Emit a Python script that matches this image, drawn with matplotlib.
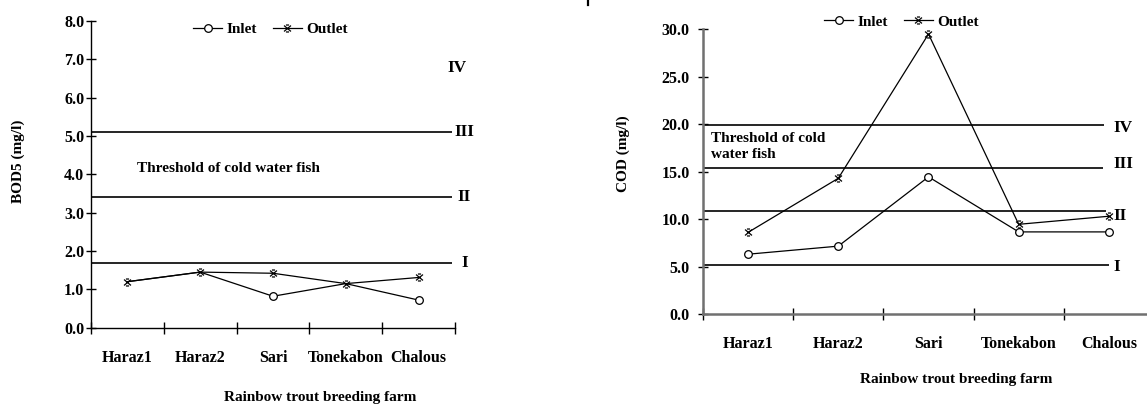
import matplotlib
matplotlib.use('Agg')
import matplotlib.pyplot as plt
from matplotlib.path import Path
from matplotlib.lines import Line2D

farms = ['Haraz1', 'Haraz2', 'Sari', 'Tonekabon', 'Chalous']

bod_inlet = [1.2, 1.45, 0.82, 1.15, 0.72]
bod_outlet = [1.2, 1.45, 1.42, 1.15, 1.31]
bod_classes = [1.7, 3.4, 5.1]
bod_class_names = ['I', 'II', 'III']

cod_inlet = [6.3, 7.15, 14.45, 8.65, 8.65]
cod_outlet = [8.6, 14.3, 29.5, 9.45, 10.3]
cod_classes = [5.2, 10.8, 15.4, 19.9]
cod_class_names = ['I', 'II', 'III', 'IV']

plt.rcParams['font.family'] = 'Liberation Serif'
plt.rcParams['font.weight'] = 'bold'

# asterisk-like marker: an x with short caps top and bottom
star = Path([(-1, -0.85), (1, 0.85), (-1, 0.85), (1, -0.85),
             (-0.45, 1.0), (0.45, 1.0), (-0.45, -1.0), (0.45, -1.0)],
            [Path.MOVETO, Path.LINETO] * 4)

fig = plt.figure(figsize=(11.47, 4.04), dpi=100)
ax1 = fig.add_axes([0.0793, 0.1889, 0.3174, 0.759])
ax2 = fig.add_axes([0.6129, 0.2228, 0.3932, 0.7047])

xs = [i + 0.5 for i in range(len(farms))]


def style_axis(ax, ymax, ystep, spine_col, spine_w, ypad):
    ax.set_xlim(0, 5)
    ax.set_ylim(0, ymax)
    for s in ['top', 'right']:
        ax.spines[s].set_visible(False)
    for s in ['left', 'bottom']:
        ax.spines[s].set_color(spine_col)
        ax.spines[s].set_linewidth(spine_w)
    ax.set_xticks(range(6))
    ax.set_xticklabels([])
    ax.set_xticks(xs, minor=True)
    ax.set_xticklabels(farms, minor=True, fontsize=11.5, fontweight='bold')
    ax.tick_params(axis='x', which='major', direction='inout', length=8, color='black', width=1)
    ax.tick_params(axis='x', which='minor', length=0, pad=16)
    yt = [i * ystep for i in range(int(ymax / ystep) + 1)]
    ax.set_yticks(yt)
    ax.set_yticklabels(['%.1f' % v for v in yt], fontsize=11.5, fontweight='bold')
    ax.tick_params(axis='y', direction='inout', length=7.5, color='black', width=1, pad=ypad)


style_axis(ax1, 8, 1, 'black', 1.0, 1)
style_axis(ax2, 30, 5, '#707070', 1.8, 6)

# BOD5 panel
ax1.hlines(bod_classes, 0, 4.96, color='black', lw=1.2)
for v, name in zip(bod_classes, bod_class_names):
    ax1.text(5.13, v, name, ha='center', va='center', fontsize=12.5, fontweight='bold', clip_on=False)
ax1.text(5.03, 6.77, 'IV', ha='center', va='center', fontsize=12.5, fontweight='bold', clip_on=False)
ax1.text(0.63, 4.16, 'Threshold of cold water fish', ha='left', va='center', fontsize=11, fontweight='bold')
l1, = ax1.plot(xs, bod_inlet, color='black', lw=0.9, marker='o', ms=5.5, mfc='white', mec='black',
               mew=0.9, markevery=[2, 4], label='Inlet')
l2, = ax1.plot(xs, bod_outlet, color='black', lw=0.9, marker=star, ms=5, mec='black', mew=0.9, label='Outlet')

# COD panel
cod_ends = [4.5, 4.47, 4.44, 4.45]
label_y = [4.9, 10.35, 15.8, 19.6]
for v, e, ly, name in zip(cod_classes, cod_ends, label_y, cod_class_names):
    ax2.hlines(v, 0, e, color='black', lw=1.2)
    ax2.text(4.55, ly, name, ha='left', va='center', fontsize=12.5, fontweight='bold', clip_on=False)
ax2.text(0.085, 17.6, 'Threshold of cold\nwater fish', ha='left', va='center', fontsize=11,
         fontweight='bold', linespacing=1.3)
ax2.plot(xs, cod_inlet, color='black', lw=0.9, marker='o', ms=5.5, mfc='white', mec='black', mew=0.9, clip_on=False)
ax2.plot(xs, cod_outlet, color='black', lw=0.9, marker=star, ms=5, mec='black', mew=0.9, clip_on=False)

h1 = Line2D([], [], color='black', lw=0.9, marker='o', ms=5.5, mfc='white', mec='black', mew=0.9)
for bx, by in [(0.236, 0.928), (0.786, 0.946)]:
    fig.legend([h1, l2], ['Inlet', 'Outlet'], loc='center', bbox_to_anchor=(bx, by), ncol=2,
               frameon=False, handlelength=1.9, handletextpad=0.3, columnspacing=1.0,
               prop={'family': 'Liberation Serif', 'weight': 'bold', 'size': 11})

fig.text(0.0157, 0.60, 'BOD5 (mg/l)', rotation=90, ha='center', va='center', fontsize=11, fontweight='bold')
fig.text(0.543, 0.62, 'COD (mg/l)', rotation=90, ha='center', va='center', fontsize=11, fontweight='bold')
fig.text(0.279, 0.015, 'Rainbow trout breeding farm', ha='center', va='center', fontsize=11, fontweight='bold')
fig.text(0.834, 0.06, 'Rainbow trout breeding farm', ha='center', va='center', fontsize=11, fontweight='bold')

# small stray mark at the top of the page
fig.add_artist(Line2D([0.5125, 0.5125], [1.0, 0.987], color='black', lw=1.6))

fig.savefig('out.png', dpi=100)
